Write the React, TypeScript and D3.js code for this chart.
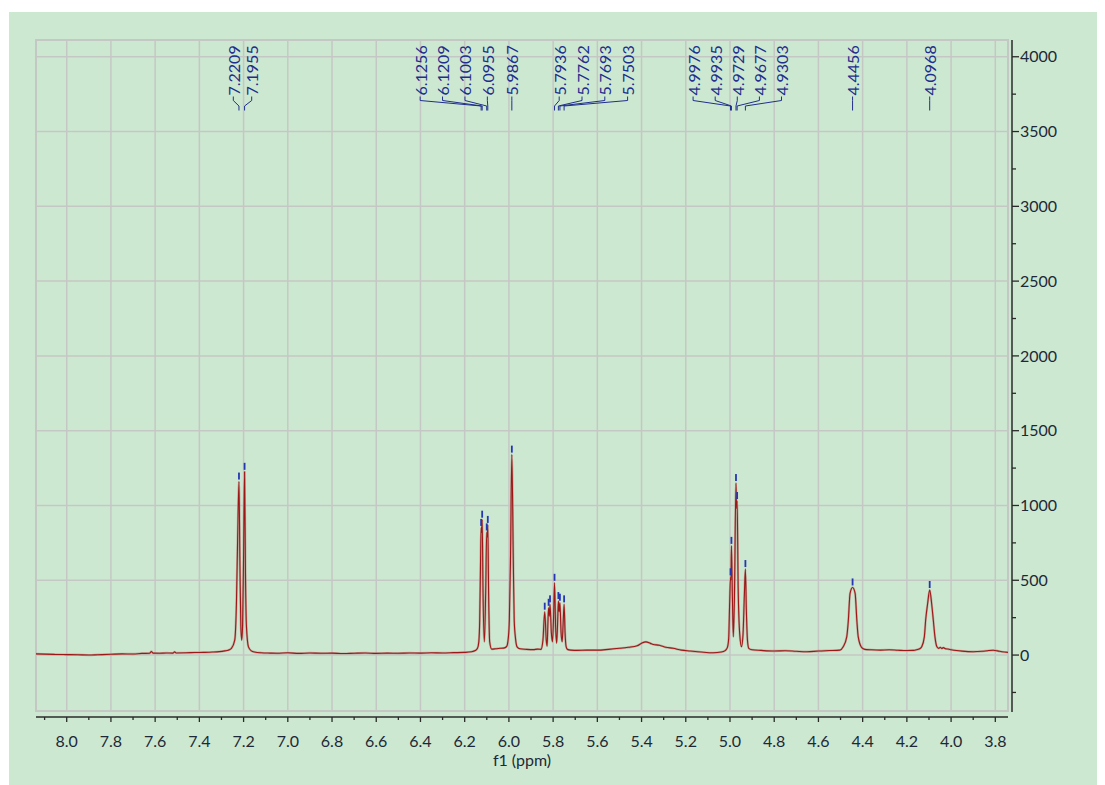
import React from 'react'
import * as d3 from 'd3'

// peak picking labels, in the order they sit along the top
const peakLabels = ['7.2209', '7.1955', '6.1256', '6.1209', '6.1003', '6.0955', '5.9867', '5.7936', '5.7762', '5.7693', '5.7503', '4.9976', '4.9935', '4.9729', '4.9677', '4.9303', '4.4456', '4.0968']
// multiplets: which labels share one leader fan
const labelGroups = [
  ['7.2209', '7.1955'],
  ['6.1256', '6.1209', '6.1003', '6.0955'],
  ['5.9867'],
  ['5.7936', '5.7762', '5.7693', '5.7503'],
  ['4.9976', '4.9935', '4.9729', '4.9677', '4.9303'],
  ['4.4456'],
  ['4.0968'],
]
// every picked peak gets a small blue marker (some are not labelled)
const pickedPpm = [7.2209, 7.1955, 6.1256, 6.1209, 6.1003, 6.0955, 5.9867, 5.838, 5.8204, 5.814, 5.7936, 5.7762, 5.7693, 5.7503, 4.9976, 4.9935, 4.9729, 4.9677, 4.9303, 4.4456, 4.0968]

// [ppm, intensity]
const spectrum: [number, number][] = [
  [8.139, 8], [8.10, 6], [8.05, 4], [8.00, 3], [7.95, 2], [7.90, 0], [7.86, 2], [7.80, 5], [7.75, 8], [7.70, 7],
  [7.66, 11], [7.625, 12], [7.617, 24], [7.61, 13], [7.58, 12], [7.55, 14], [7.52, 13], [7.512, 21], [7.505, 14],
  [7.46, 15], [7.42, 17], [7.38, 18], [7.34, 20], [7.31, 23], [7.285, 28], [7.27, 32], [7.255, 45], [7.24, 100],
  [7.232, 368], [7.227, 770], [7.2209, 1160], [7.2165, 600], [7.2125, 200], [7.2085, 100], [7.2045, 200], [7.2005, 600],
  [7.1955, 1225], [7.1915, 547], [7.187, 190], [7.178, 55], [7.165, 28], [7.15, 20], [7.12, 15], [7.08, 13], [7.05, 12],
  [7.0, 15], [6.95, 11], [6.9, 14], [6.85, 12], [6.8, 13], [6.75, 10], [6.7, 12], [6.65, 14], [6.6, 11], [6.55, 13],
  [6.5, 12], [6.45, 14], [6.4, 13], [6.35, 15], [6.3, 14], [6.25, 16], [6.2, 18], [6.17, 22], [6.152, 30], [6.142, 45],
  [6.136, 90], [6.132, 234], [6.128, 650], [6.1256, 850], [6.1233, 820], [6.1209, 905], [6.117, 420], [6.111, 89],
  [6.105, 420], [6.1003, 820], [6.0979, 790], [6.0955, 870], [6.0915, 380], [6.087, 89], [6.078, 40], [6.06, 42],
  [6.04, 45], [6.02, 48], [6.010, 58], [6.003, 110], [5.998, 234], [5.993, 620], [5.9867, 1340], [5.980, 620],
  [5.976, 234], [5.970, 110], [5.963, 55], [5.95, 42], [5.92, 38], [5.89, 36], [5.87, 40], [5.855, 38], [5.846, 100],
  [5.838, 290], [5.831, 100], [5.827, 60], [5.8235, 220], [5.8204, 316], [5.817, 260], [5.814, 339], [5.808, 150],
  [5.803, 89], [5.798, 250], [5.7936, 483], [5.789, 200], [5.784, 80], [5.780, 200], [5.7762, 361], [5.7728, 290],
  [5.7693, 350], [5.764, 150], [5.759, 89], [5.755, 200], [5.7503, 339], [5.746, 150], [5.741, 55], [5.735, 38],
  [5.72, 33], [5.69, 31], [5.65, 33], [5.60, 33], [5.55, 38], [5.50, 45], [5.46, 52], [5.42, 62], [5.40, 79],
  [5.38, 88], [5.36, 78], [5.347, 71], [5.32, 66], [5.29, 52], [5.257, 45], [5.22, 33], [5.18, 27], [5.13, 20],
  [5.076, 15], [5.04, 20], [5.022, 30], [5.012, 50], [5.006, 110], [5.0015, 350], [4.9976, 520], [4.9955, 500],
  [4.9935, 730], [4.989, 380], [4.985, 122], [4.980, 380], [4.9729, 1150], [4.9703, 980], [4.9677, 1030], [4.963, 450],
  [4.956, 140], [4.948, 56], [4.941, 140], [4.935, 400], [4.9303, 575], [4.926, 300], [4.921, 100], [4.915, 45],
  [4.90, 35], [4.86, 31], [4.80, 27], [4.75, 29], [4.70, 25], [4.653, 22], [4.60, 27], [4.55, 30], [4.503, 33],
  [4.488, 55], [4.472, 122], [4.465, 226], [4.457, 412], [4.4456, 452], [4.434, 412], [4.426, 226], [4.420, 122],
  [4.404, 50], [4.39, 38], [4.36, 35], [4.32, 33], [4.28, 35], [4.24, 32], [4.20, 30], [4.17, 31], [4.155, 36],
  [4.14, 44], [4.133, 55], [4.121, 122], [4.115, 234], [4.106, 345], [4.0968, 435], [4.088, 345], [4.0805, 234],
  [4.073, 122], [4.064, 55], [4.056, 45], [4.049, 52], [4.042, 44], [4.035, 50], [4.025, 42], [4.013, 40], [4.0, 36],
  [3.975, 30], [3.95, 26], [3.90, 22], [3.86, 25], [3.83, 30], [3.81, 32], [3.79, 28], [3.77, 22], [3.7426, 18],
]

const xTicks = [8.0, 7.8, 7.6, 7.4, 7.2, 7.0, 6.8, 6.6, 6.4, 6.2, 6.0, 5.8, 5.6, 5.4, 5.2, 5.0, 4.8, 4.6, 4.4, 4.2, 4.0, 3.8]
const yTicks = [0, 500, 1000, 1500, 2000, 2500, 3000, 3500, 4000]

// where each label fan is centred (ppm) and how far apart its labels sit (px)
const labelLayout = [
  { centre: 7.2049, gap: 18.4 },
  { centre: 6.2494, gap: 22.4 },
  { centre: 5.9867, gap: 0 },
  { centre: 5.6178, gap: 22.8 },
  { centre: 4.967, gap: 22.1 },
  { centre: 4.4456, gap: 0 },
  { centre: 4.0968, gap: 0 },
]

const font = 'Lato, "Open Sans", sans-serif'
const green = '#cde8d0'
const grid = '#c5c7c5'
const ink = '#1d2838'
const blue = '#1f2e8e'

export default function App() {
  const W = 1105, H = 785
  const left = 36, right = 1008, top = 40, bottom = 711
  const xScale = d3.scaleLinear().domain([8.1389, 3.7426]).range([left, right])
  const yScale = d3.scaleLinear().domain([-374, 4112]).range([bottom, top])

  const pts = spectrum.slice().sort((a, b) => b[0] - a[0])
  const line = d3.line<[number, number]>()
    .x(d => xScale(d[0]))
    .y(d => yScale(d[1]))
    .curve(d3.curveMonotoneX)(pts) as string

  const heightAt = (ppm: number) => {
    const p = pts.find(d => Math.abs(d[0] - ppm) < 1e-6)
    return p ? p[1] : 0
  }

  const xMinor = d3.range(81, 37, -1).map(v => v / 10).filter(v => Math.round(v * 10) % 2 === 1)
  const yMinor = d3.range(-250, 4000, 500)

  const axisY = 717
  const axisX = 1012

  // label leaders
  const labels: { text: string; lx: number; px: number }[] = []
  labelGroups.forEach((g, gi) => {
    const cx = xScale(labelLayout[gi].centre)
    const gap = labelLayout[gi].gap
    g.forEach((t, i) => {
      labels.push({ text: t, lx: cx + (i - (g.length - 1) / 2) * gap, px: xScale(+t) })
    })
  })

  return (
    <svg width={W} height={H} style={{ position: 'absolute', left: 0, top: 0, background: '#fff' }} fontFamily={font}>
      <rect x={9} y={12} width={1088} height={H - 12} fill={green} />
      <defs>
        <clipPath id="plot">
          <rect x={left} y={top} width={right - left} height={bottom - top} />
        </clipPath>
      </defs>

      {/* grid */}
      {xTicks.map(t => (
        <line key={'gx' + t} x1={xScale(t)} x2={xScale(t)} y1={top} y2={bottom} stroke={grid} strokeWidth={1.5} />
      ))}
      {yTicks.map(t => (
        <line key={'gy' + t} x1={left} x2={right} y1={yScale(t)} y2={yScale(t)} stroke={grid} strokeWidth={1.5} />
      ))}
      <rect x={left} y={top} width={right - left} height={bottom - top} fill="none" stroke={grid} strokeWidth={2} />

      {/* spectrum */}
      <g clipPath="url(#plot)">
        <path d={line} fill="none" stroke="#b59c92" strokeWidth={2.3} strokeOpacity={0.75} strokeLinejoin="round" />
        <path d={line} fill="none" stroke="#9e1616" strokeWidth={1.1} strokeLinejoin="round" />
      </g>

      {/* peak markers */}
      {pickedPpm.map(p => (
        <rect key={'m' + p} x={xScale(p) - 0.9} y={yScale(heightAt(p)) - 9} width={1.8} height={7} fill="#2436b4" />
      ))}

      {/* peak labels */}
      {labels.map(l => (
        <g key={'l' + l.text}>
          <path d={`M${l.lx},96.5V100.5L${l.px},106L${l.px},110.5`} fill="none" stroke={blue} strokeWidth={1} />
          <text
            transform={`translate(${l.lx},95.5) rotate(-90)`}
            dominantBaseline="central"
            fontSize={16}
            fill={blue}
          >
            {l.text}
          </text>
        </g>
      ))}

      {/* x axis */}
      <line x1={left} x2={right} y1={axisY} y2={axisY} stroke="#2a2a2a" strokeWidth={1.5} />
      {xTicks.map(t => (
        <g key={'xt' + t}>
          <line x1={xScale(t)} x2={xScale(t)} y1={axisY} y2={axisY + 5} stroke="#2a2a2a" strokeWidth={1.3} />
          <text x={xScale(t)} y={747} textAnchor="middle" fontSize={16} fill={ink}>{t.toFixed(1)}</text>
        </g>
      ))}
      {xMinor.map(t => (
        <line key={'xm' + t} x1={xScale(t)} x2={xScale(t)} y1={axisY} y2={axisY + 3} stroke="#2a2a2a" strokeWidth={1.3} />
      ))}
      <text x={522} y={766} textAnchor="middle" fontSize={16} fill={ink}>f1 (ppm)</text>

      {/* y axis (right) */}
      <line x1={axisX} x2={axisX} y1={top} y2={bottom + 1} stroke="#2a2a2a" strokeWidth={1.5} />
      {yTicks.map(t => (
        <g key={'yt' + t}>
          <line x1={axisX} x2={axisX + 7} y1={yScale(t)} y2={yScale(t)} stroke="#2a2a2a" strokeWidth={1.3} />
          <text x={axisX + 8} y={yScale(t) + 5.6} fontSize={16} fill={ink}>{t}</text>
        </g>
      ))}
      {yMinor.map(t => (
        <line key={'ym' + t} x1={axisX} x2={axisX + 4} y1={yScale(t)} y2={yScale(t)} stroke="#2a2a2a" strokeWidth={1.3} />
      ))}
    </svg>
  )
}
